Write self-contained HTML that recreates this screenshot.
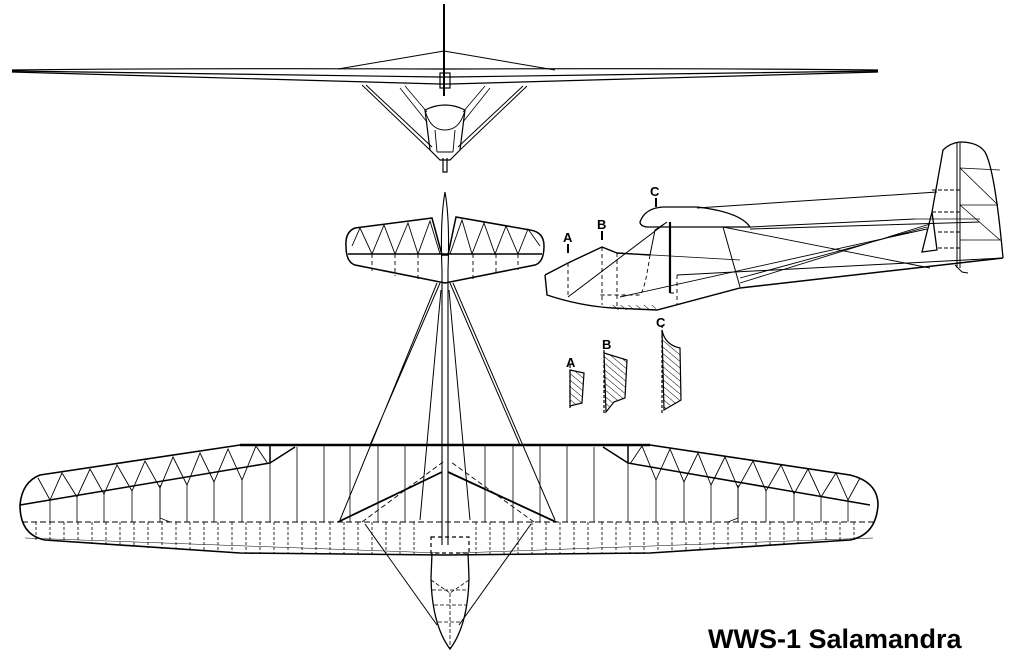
<!DOCTYPE html>
<html><head><meta charset="utf-8"><style>
html,body{margin:0;padding:0;background:#fff;}
svg{display:block}
text{font-family:"Liberation Sans",sans-serif;font-weight:bold;fill:#000}
</style></head><body>
<svg width="1024" height="662" viewBox="0 0 1024 662" xmlns="http://www.w3.org/2000/svg">
<defs>
<pattern id="h" width="5" height="5" patternUnits="userSpaceOnUse" patternTransform="rotate(-50)">
<line x1="0" y1="0" x2="0" y2="5" stroke="#000" stroke-width="1"/></pattern>
</defs>
<rect width="1024" height="662" fill="#fff"/>
<g fill="none" stroke="#000" stroke-width="1.2">
<!-- FRONT VIEW -->
<path d="M12,70 Q200,68 440,69 L450,69 Q680,68 878,70"/>
<path d="M12,71 Q200,73 440,77 L450,77 Q680,73 878,71"/>
<path d="M12,72 Q200,78 440,84 L450,84 Q680,78 878,72"/>
<line x1="444" y1="4" x2="444" y2="96" stroke-width="2"/>
<path d="M444,51 L338,69 M444,51 L555,70" stroke-width="1"/>
<rect x="440" y="73" width="10" height="15"/>
<path d="M362,85 L430,150 M366,85 L432,147 M527,86 L460,150 M523,86 L458,147" stroke-width="1"/>
<path d="M405,86 L427,112 M485,86 L463,112 M400,88 L427,122 M490,88 L463,122" stroke-width="0.8"/>
<path d="M425,110 L430,150 L440,160 L450,160 L460,150 L465,110 Q445,100 425,110Z"/>
<path d="M425,110 Q430,130 445,130 Q460,130 465,110 M435,130 L437,152 M455,130 L453,152 M437,152 L453,152" stroke-width="0.9"/>
<path d="M443,158 L443,172 L447,172 L447,158"/>

<!-- TAILPLANE TOP VIEW -->
<path d="M432,218 L355,228 Q345,232 346,246 Q346,262 355,265 L445,283 L535,265 Q544,262 544,246 Q544,232 530,230 L456,217 L448,255 L442,255Z" stroke-width="1.5"/>
<line x1="348" y1="254" x2="542" y2="254" stroke-width="1.6"/>
<path d="M352,246 L360,228 L372,254 L384,225 L395,254 L408,223 L418,254 L430,221 L440,254 M450,254 L462,220 L472,254 L484,223 L495,254 L506,226 L518,254 L528,229 L540,246" stroke-width="0.9"/>
<path d="M372,254 V271 M395,254 V276 M418,254 V281 M473,254 V279 M496,254 V274 M518,254 V270" stroke-dasharray="4,3" stroke-width="0.9"/>
<path d="M445,192 Q450,220 448,270 L448,545 M445,192 Q440,220 442,270 L442,545" stroke-width="1.1"/>
<!-- struts -->
<path d="M437,283 L340,520 M453,283 L555,520 M440,283 L370,445 M450,283 L520,445 M441,290 L420,520 M449,290 L470,520" stroke-width="1"/>
<!-- MAIN WING -->
<path d="M40,475 L240,445 L650,445 L850,475 Q878,482 878,505 Q876,535 850,540 L650,553 L445,555 L240,553 L45,540 Q20,535 20,505 Q22,482 40,475Z" stroke-width="1.6"/>
<line x1="240" y1="445" x2="650" y2="445" stroke-width="2.5"/>
<path d="M20,505 L270,463 L270,445 M270,463 L295,447 M870,505 L628,463 L628,445 M628,463 L603,447" stroke-width="1.5"/>
<path d="M38,478 L50,500 L62,473 L77,497 L90,469 L104,494 L117,465 L132,491 L145,461 L160,488 L173,457 L187,485 L200,453 L214,482 L228,449 L242,480 L256,446 L268,464 M630,464 L642,446 L656,480 L670,449 L684,482 L698,453 L711,485 L725,457 L738,488 L753,461 L766,491 L781,465 L794,494 L808,469 L821,497 L836,473 L848,500 L860,478" stroke-width="0.9"/>
<path d="M22,522 L876,522" stroke-dasharray="6,3" stroke-width="1.1"/>
<path d="M25,538 L440,553 M873,538 L458,553" stroke-width="0.5"/>
<g stroke-width="0.8">
<path d="M50,500 V522 M77,497 V522 M104,494 V522 M132,491 V522 M160,488 V522 M187,485 V522 M214,482 V522 M242,480 V522 M270,463 V522 M297,447 V522 M324,445 V522 M350,445 V522 M378,445 V522 M405,445 V522 M485,445 V522 M513,445 V522 M540,445 V522 M567,445 V522 M594,447 V522 M628,463 V522 M656,480 V522 M684,482 V522 M711,485 V522 M738,488 V522 M766,491 V522 M794,494 V522 M821,497 V522 M848,500 V522"/>
</g>
<path d="M36,522 V540 M50,522 V541 M64,522 V542 M78,522 V543 M92,522 V544 M106,522 V545 M120,522 V546 M134,522 V547 M148,522 V548 M162,522 V549 M176,522 V549 M190,522 V550 M204,522 V551 M218,522 V552 M232,522 V552 M246,522 V553 M260,522 V553 M274,522 V553 M288,522 V554 M302,522 V554 M316,522 V554 M330,522 V554 M344,522 V554 M358,522 V554 M372,522 V555 M386,522 V555 M400,522 V555 M414,522 V555 M476,522 V555 M490,522 V555 M504,522 V555 M518,522 V555 M532,522 V554 M546,522 V554 M560,522 V554 M574,522 V554 M588,522 V554 M602,522 V554 M616,522 V553 M630,522 V553 M644,522 V553 M658,522 V552 M672,522 V552 M686,522 V551 M700,522 V550 M714,522 V549 M728,522 V549 M742,522 V548 M756,522 V547 M770,522 V546 M784,522 V545 M798,522 V544 M812,522 V543 M826,522 V542 M840,522 V541 M854,522 V540" stroke-dasharray="3,2" stroke-width="0.8"/>
<path d="M160,485 V518 L170,522 M738,485 V518 L728,522" stroke-width="0.8"/>
<path d="M338,522 L442,472 M556,522 L448,472" stroke-width="1.8"/>
<path d="M365,524 L437,625 M531,524 L459,625" stroke-width="1"/>
<path d="M362,522 L443,462 M534,522 L451,462" stroke-dasharray="5,3" stroke-width="0.9"/>
<rect x="431" y="537" width="38" height="16" stroke-dasharray="4,3"/>
<!-- nose pod -->
<path d="M432,553 L431,578 Q432,625 450,649 Q468,625 469,578 L468,553" stroke-width="1.3"/>
<path d="M431,580 L450,593 L469,580 M450,593 V648 M432,590 H468 M434,605 H466 M438,622 H462" stroke-width="0.8" stroke-dasharray="4,2"/>

<!-- SIDE VIEW -->
<path d="M545,275 L568,263 L602,247 L617,253 L650,255 M545,275 L547,295 Q580,306 613,308 L657,310 L740,288 L1003,258" stroke-width="1.4"/>
<path d="M650,255 L655,230 L667,222 M568,297 L667,222 M677,275 L1003,258 M723,227 L740,287" stroke-width="1"/>
<path d="M617,253 L740,260" stroke-width="0.8"/>
<path d="M640,222 Q645,208 663,207 L697,207 Q740,212 750,227 L647,227 Q640,226 640,222Z" stroke-width="1.3"/>
<path d="M697,208 L937,192 M750,227 L915,219 M750,229 L980,222" stroke-width="1"/>
<line x1="670" y1="222" x2="670" y2="293" stroke-width="2.2"/>
<path d="M723,227 L930,268 M740,278 L927,227 M740,283 L930,224 M620,297 L927,229" stroke-width="0.9"/>
<path d="M932,212 L943,150 Q950,143 960,142 Q978,142 985,152 Q995,170 1003,258 M932,212 L937,250 L922,252 L932,212" stroke-width="1.3"/>
<path d="M957,143 V268 M960,143 V268" stroke-width="1"/>
<path d="M915,219 L980,219 M960,168 L1000,170 M960,168 L998,205 M960,205 L998,205 M960,205 L1000,240 M960,240 L1001,240" stroke-width="0.8"/>
<path d="M932,190 L960,190 M932,212 L960,212 M938,232 L960,232 M938,248 L960,248" stroke-dasharray="4,2" stroke-width="0.9"/>
<path d="M955,265 L962,272 L968,273" stroke-width="1"/>
<path d="M568,263 V297 M602,247 V305 M617,253 V306 M650,255 Q645,290 640,295 L600,295 M670,293 L677,293 M677,275 V305" stroke-dasharray="4,3" stroke-width="0.9"/>
<rect x="612" y="305" width="44" height="5" fill="url(#h)" stroke="none"/>
<path d="M568,244 V253 M602,231 V240 M656,198 V207" stroke-width="2"/>
<path d="M570,370 L584,373 L582,403 L570,406Z M604,353 L627,360 L625,398 L614,402 L606,412Z M662,330 Q665,345 680,348 L681,400 L664,410Z" fill="url(#h)"/>
<path d="M570,365 V410 M604,350 V415 M662,325 V415" stroke-dasharray="3,2"/>
</g>
<g font-size="13">
<text x="563" y="242">A</text><text x="597" y="229">B</text><text x="650" y="196">C</text>
<text x="566" y="367">A</text><text x="602" y="349">B</text><text x="656" y="327">C</text>
</g>
<text x="708" y="648" font-size="27">WWS-1 Salamandra</text>
</svg>
</body></html>
